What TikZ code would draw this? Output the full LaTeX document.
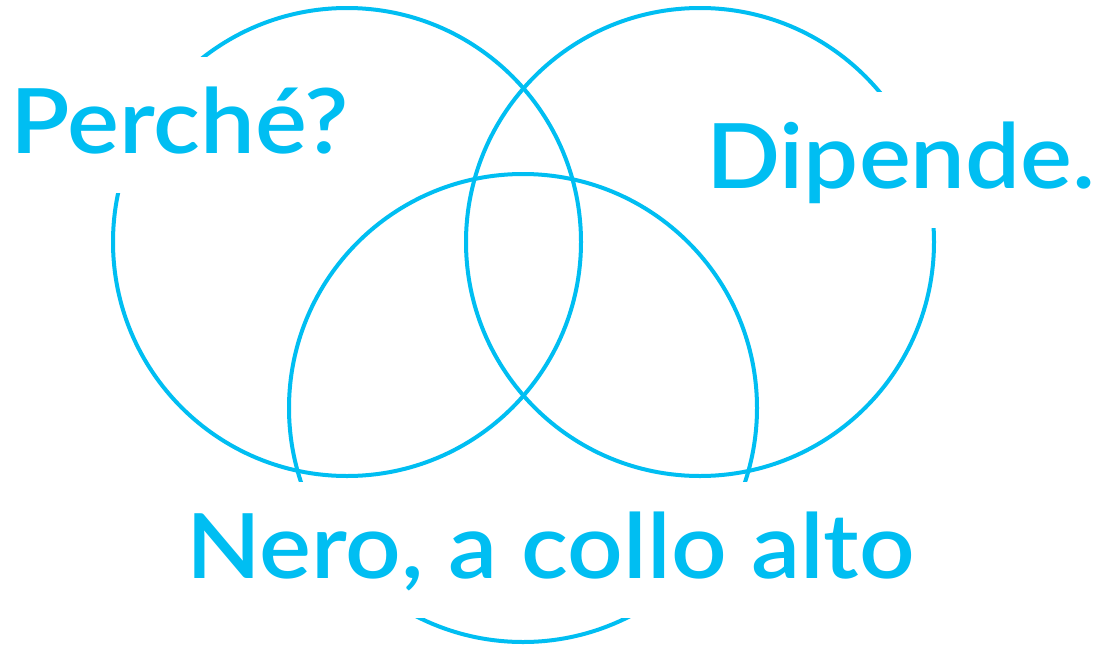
\documentclass[tikz,border=0pt]{standalone}
\usepackage{fontspec}
\newfontfamily\labfont[FakeStretch=1.085]{Lato Semibold}
\definecolor{vblue}{HTML}{00BEF2}
\begin{document}
\begin{tikzpicture}[x=1pt,y=-1pt,
  ring/.style={circle,draw=vblue,line width=4pt,minimum size=468pt,inner sep=0pt},
  mask/.style={fill=white,draw=none},
  lab/.style={text=vblue,font=\labfont\fontsize{90}{90}\selectfont,inner sep=0pt,anchor=base west}]
\useasboundingbox[fill=white] (0,0) rectangle (1101,648);
\node[ring] (c1) at (347,242) {};
\node[ring] (c2) at (700,242) {};
\node[ring] (c3) at (523,408) {};
\fill[mask] (0,57) rectangle (380,193);
\fill[mask] (705,92) rectangle (1101,228);
\fill[mask] (0,482) rectangle (1101,618);
\node[lab] (perche) at (10,153) {Perché?};
\node[lab] (dipende) at (706,188) {Dipende.};
\node[lab] (nero) at (186,578) {Nero, a collo alto};
\end{tikzpicture}
\end{document}
